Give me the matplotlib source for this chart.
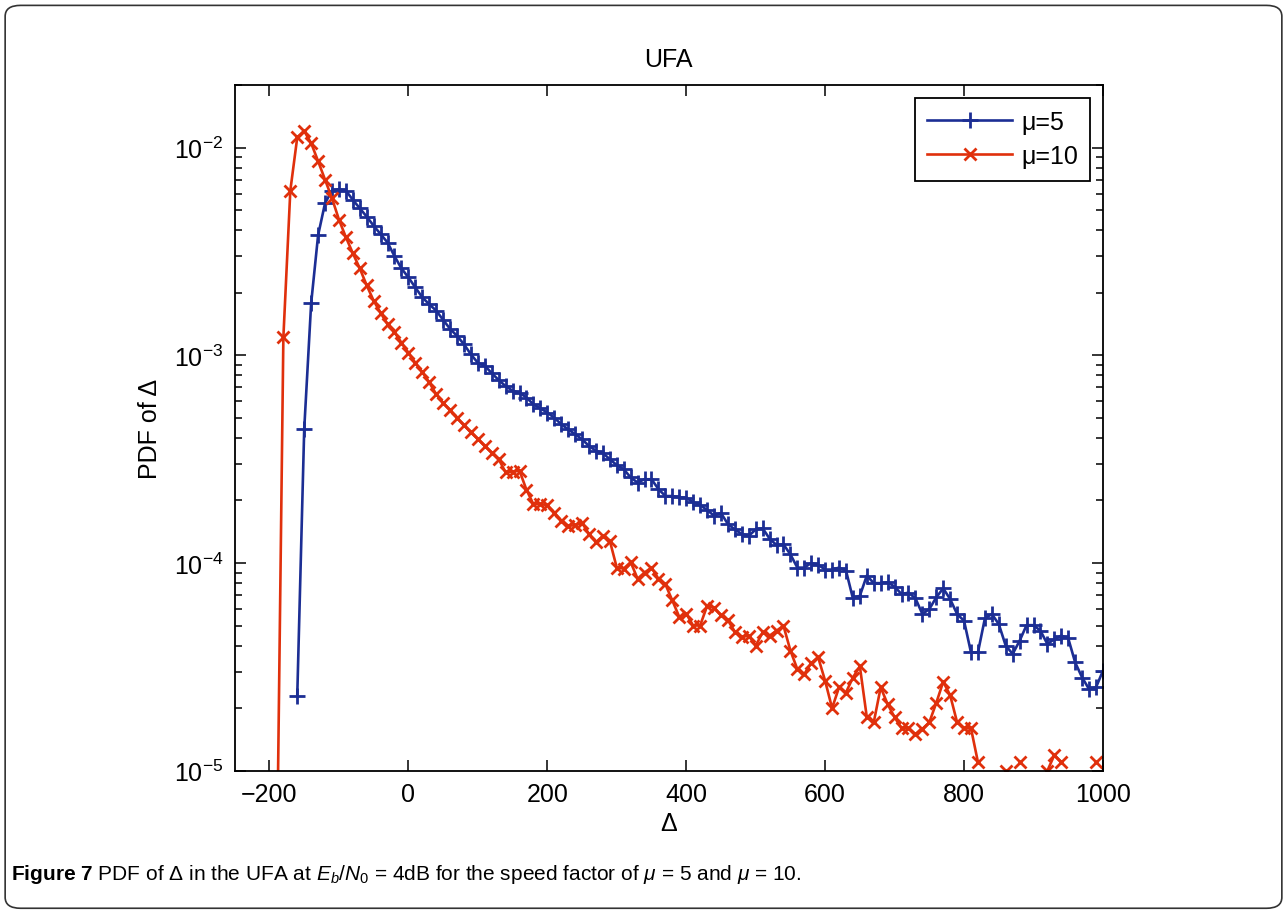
import numpy as np
import matplotlib
matplotlib.use("Agg")
import matplotlib.pyplot as plt
from matplotlib.patches import FancyBboxPatch

""" Style """
plt.rcParams['font.family'] = ['Liberation Sans', 'DejaVu Sans']
plt.rcParams['mathtext.fontset'] = 'custom'
plt.rcParams['mathtext.rm'] = 'Liberation Sans'
plt.rcParams['mathtext.it'] = 'Liberation Sans:italic'
plt.rcParams['mathtext.bf'] = 'Liberation Sans:bold'

""" Data (read off the figure) """
nan = np.nan
# bin centres of Delta
x_mu10 = np.arange(-190, 1001, 10)
x_mu5 = np.arange(-160, 1001, 10)

pdf_mu10 = [
    2.2e-6, 1.22e-3, 6.2e-3, 1.12e-2, 1.2e-2, 1.05e-2, 8.6e-3, 7.0e-3, 5.7e-3, 4.5e-3,   # -190 .. -100
    3.7e-3, 3.1e-3, 2.62e-3, 2.17e-3, 1.83e-3, 1.6e-3, 1.41e-3, 1.29e-3, 1.15e-3,      # -90 .. -10
    1.03e-3, 9.2e-4, 8.3e-4, 7.4e-4, 6.5e-4, 5.9e-4, 5.45e-4, 5.0e-4, 4.6e-4, 4.25e-4, # 0 .. 90
    3.95e-4, 3.66e-4, 3.40e-4, 3.16e-4, 2.73e-4, 2.75e-4, 2.78e-4, 2.25e-4, 1.92e-4, 1.92e-4,
    1.90e-4, 1.75e-4, 1.60e-4, 1.51e-4, 1.52e-4, 1.56e-4, 1.38e-4, 1.26e-4, 1.35e-4, 1.28e-4,
    9.5e-5, 9.4e-5, 1.01e-4, 8.4e-5, 9.0e-5, 9.5e-5, 8.4e-5, 7.9e-5, 6.6e-5, 5.5e-5,
    5.7e-5, 5.0e-5, 5.0e-5, 6.2e-5, 6.1e-5, 5.6e-5, 5.3e-5, 4.67e-5, 4.4e-5, 4.47e-5,
    4.0e-5, 4.63e-5, 4.47e-5, 4.72e-5, 4.99e-5, 3.79e-5, 3.08e-5, 2.92e-5, 3.3e-5, 3.51e-5,
    2.71e-5, 2.0e-5, 2.52e-5, 2.38e-5, 2.81e-5, 3.18e-5, 1.81e-5, 1.71e-5, 2.52e-5, 2.09e-5,
    1.81e-5, 1.6e-5, 1.6e-5, 1.5e-5, 1.59e-5, 1.71e-5, 2.12e-5, 2.68e-5, 2.31e-5, 1.71e-5,
    1.6e-5, 1.6e-5, 1.1e-5, nan, nan, nan, 1.0e-5, nan, 1.1e-5, nan,                     # 800 .. 890
    nan, nan, 1.0e-5, 1.19e-5, 1.1e-5, nan, nan, nan, nan, 1.1e-5, nan,                  # 900 .. 1000
]

pdf_mu5 = [
    2.3e-5, 4.4e-4, 1.78e-3, 3.78e-3, 5.4e-3, 6.2e-3, 6.3e-3,                             # -160 .. -100
    6.2e-3, 5.6e-3, 5.1e-3, 4.65e-3, 4.2e-3, 3.83e-3, 3.49e-3, 3.0e-3, 2.62e-3,          # -90 .. -10
    2.37e-3, 2.12e-3, 1.9e-3, 1.76e-3, 1.64e-3, 1.48e-3, 1.34e-3, 1.24e-3, 1.13e-3, 1.01e-3,
    9.2e-4, 8.9e-4, 8.2e-4, 7.6e-4, 7.1e-4, 6.75e-4, 6.6e-4, 6.26e-4, 5.8e-4, 5.55e-4,
    5.3e-4, 5.0e-4, 4.66e-4, 4.4e-4, 4.17e-4, 3.94e-4, 3.66e-4, 3.47e-4, 3.38e-4, 3.16e-4,
    2.96e-4, 2.83e-4, 2.58e-4, 2.44e-4, 2.53e-4, 2.53e-4, 2.27e-4, 2.1e-4, 2.1e-4, 2.07e-4,
    2.06e-4, 1.96e-4, 1.9e-4, 1.80e-4, 1.69e-4, 1.74e-4, 1.54e-4, 1.45e-4, 1.38e-4, 1.35e-4,
    1.45e-4, 1.47e-4, 1.31e-4, 1.22e-4, 1.23e-4, 1.1e-4, 9.5e-5, 9.5e-5, 1.0e-4, 9.8e-5,
    9.3e-5, 9.3e-5, 9.5e-5, 9.2e-5, 6.76e-5, 6.95e-5, 8.7e-5, 8.0e-5, 8.0e-5, 8.07e-5,
    7.7e-5, 7.08e-5, 7.2e-5, 6.76e-5, 5.68e-5, 6.0e-5, 6.83e-5, 7.55e-5, 6.7e-5, 5.68e-5,
    5.27e-5, 3.71e-5, 3.71e-5, 5.41e-5, 5.68e-5, 5.08e-5, 4.0e-5, 3.65e-5, 4.22e-5, 5.02e-5,
    5.02e-5, 4.72e-5, 4.07e-5, 4.3e-5, 4.47e-5, 4.34e-5, 3.32e-5, 2.81e-5, 2.47e-5, 2.52e-5,
    3.03e-5,
]

labels = ['\u03bc=5', '\u03bc=10']
x_ticks = [-200, 0, 200, 400, 600, 800, 1000]

BLUE = '#1c2e94'
RED = '#e0300c'

fig = plt.figure(figsize=(12.87, 9.12), dpi=100)
ax = fig.add_axes([0.1824, 0.1538, 0.6746, 0.7519])

ax.semilogy(x_mu5, pdf_mu5, color=BLUE, lw=1.9, marker='+', ms=11.5, mew=2.0, label=labels[0])
ax.semilogy(x_mu10, pdf_mu10, color=RED, lw=1.9, marker='x', ms=8, mew=2.0, label=labels[1])

ax.set_xlim(-250, 1000)
ax.set_ylim(1e-5, 2e-2)
ax.set_xticks(x_ticks)
ax.set_xticklabels([str(t).replace('-', '\u2212') for t in x_ticks])

ax.tick_params(which='both', direction='in', top=True, right=True, labelsize=18, width=1.1)
ax.tick_params(which='major', length=8, pad=8)
ax.tick_params(which='minor', length=5)
for s in ax.spines.values():
    s.set_linewidth(1.3)

ax.set_title('UFA', fontsize=18, pad=14)
ax.set_xlabel('\u0394', fontsize=18, labelpad=4)
ax.set_ylabel('PDF of \u0394', fontsize=18, labelpad=9)

leg = ax.legend(loc='upper right', fontsize=18, numpoints=1, handlelength=3.4,
                fancybox=False, edgecolor='black', framealpha=1, borderpad=0.5,
                labelspacing=0.4, handletextpad=0.35, borderaxespad=0.5)
leg.get_frame().set_linewidth(1.3)

# caption + outer frame
fig.text(0.0085, 0.035,
         r'$\mathbf{Figure\ 7}$ PDF of $\Delta$ in the UFA at $E_b/N_0$ = 4dB for the speed factor of $\mu$ = 5 and $\mu$ = 10.',
         fontsize=15, ha='left', va='baseline')
frame = FancyBboxPatch((0.004, 0.003), 0.992, 0.99, transform=fig.transFigure,
                       boxstyle='round,pad=0,rounding_size=0.012', fill=False,
                       edgecolor='#333333', lw=1.2)
fig.patches.append(frame)

fig.savefig('out.png', dpi=100)
